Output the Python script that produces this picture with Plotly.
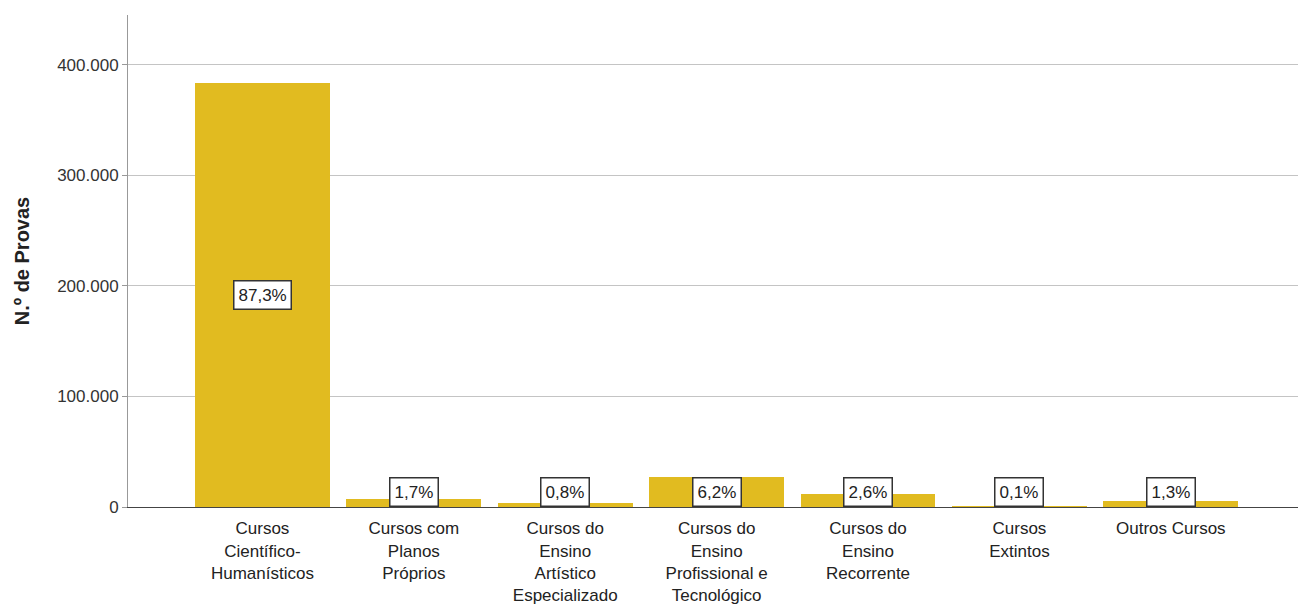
import plotly.graph_objects as go

# Número de provas por tipo de curso
categorias = [
    "Cursos<br>Científico-<br>Humanísticos",
    "Cursos com<br>Planos<br>Próprios",
    "Cursos do<br>Ensino<br>Artístico<br>Especializado",
    "Cursos do<br>Ensino<br>Profissional e<br>Tecnológico",
    "Cursos do<br>Ensino<br>Recorrente",
    "Cursos<br>Extintos",
    "Outros Cursos",
]
provas = [383700, 7470, 3520, 27250, 11430, 440, 5710]
y_ticks = [0, 100000, 200000, 300000, 400000]
y_tick_labels = ["0", "100.000", "200.000", "300.000", "400.000"]

total = sum(provas)
percentagens = [f"{v / total * 100:.1f}%".replace(".", ",") for v in provas]

FONT = "Liberation Sans, Arial, sans-serif"
BAR_COLOR = "#E1BB20"

x_pos = list(range(len(categorias)))

fig = go.Figure()
fig.add_trace(go.Bar(
    x=x_pos,
    y=provas,
    width=0.89,
    marker=dict(color=BAR_COLOR, line=dict(width=0)),
    hoverinfo="skip",
))

# Percentage labels in boxes, centred in the bar (kept clear of the baseline)
for xi, v, lab in zip(x_pos, provas, percentagens):
    fig.add_annotation(
        x=xi, y=max(v / 2, 14000),
        text=lab, showarrow=False,
        font=dict(family=FONT, size=17, color="#222222"),
        bgcolor="white", bordercolor="#333333", borderwidth=1.5, borderpad=4,
        xanchor="center", yanchor="middle",
    )

fig.update_layout(
    width=1298, height=604,
    margin=dict(l=128, r=0, t=15, b=97, autoexpand=False),
    paper_bgcolor="white", plot_bgcolor="white",
    showlegend=False,
    bargap=0,
    font=dict(family=FONT, size=17, color="#222222"),
    xaxis=dict(
        range=[-0.888, 6.84],
        tickmode="array", tickvals=x_pos, ticktext=categorias,
        tickangle=0,
        ticks="", showgrid=False, zeroline=False,
        showline=True, linecolor="#444444", linewidth=1,
        tickfont=dict(family=FONT, size=17, color="#222222"),
        ticklabelstandoff=6,
        automargin=False, fixedrange=True,
    ),
    yaxis=dict(
        range=[0, 445000],
        tickmode="array", tickvals=y_ticks, ticktext=y_tick_labels,
        ticks="outside", ticklen=5, tickcolor="#999999",
        showgrid=True, gridcolor="#C4C4C4", gridwidth=1,
        zeroline=False,
        showline=True, linecolor="#999999", linewidth=1,
        tickfont=dict(family=FONT, size=17, color="#333333"),
        title=dict(text="<b>N.º de Provas</b>", font=dict(family=FONT, size=20, color="#222222"), standoff=22),
        automargin=False, fixedrange=True,
    ),
)

fig.write_html("out.html")
